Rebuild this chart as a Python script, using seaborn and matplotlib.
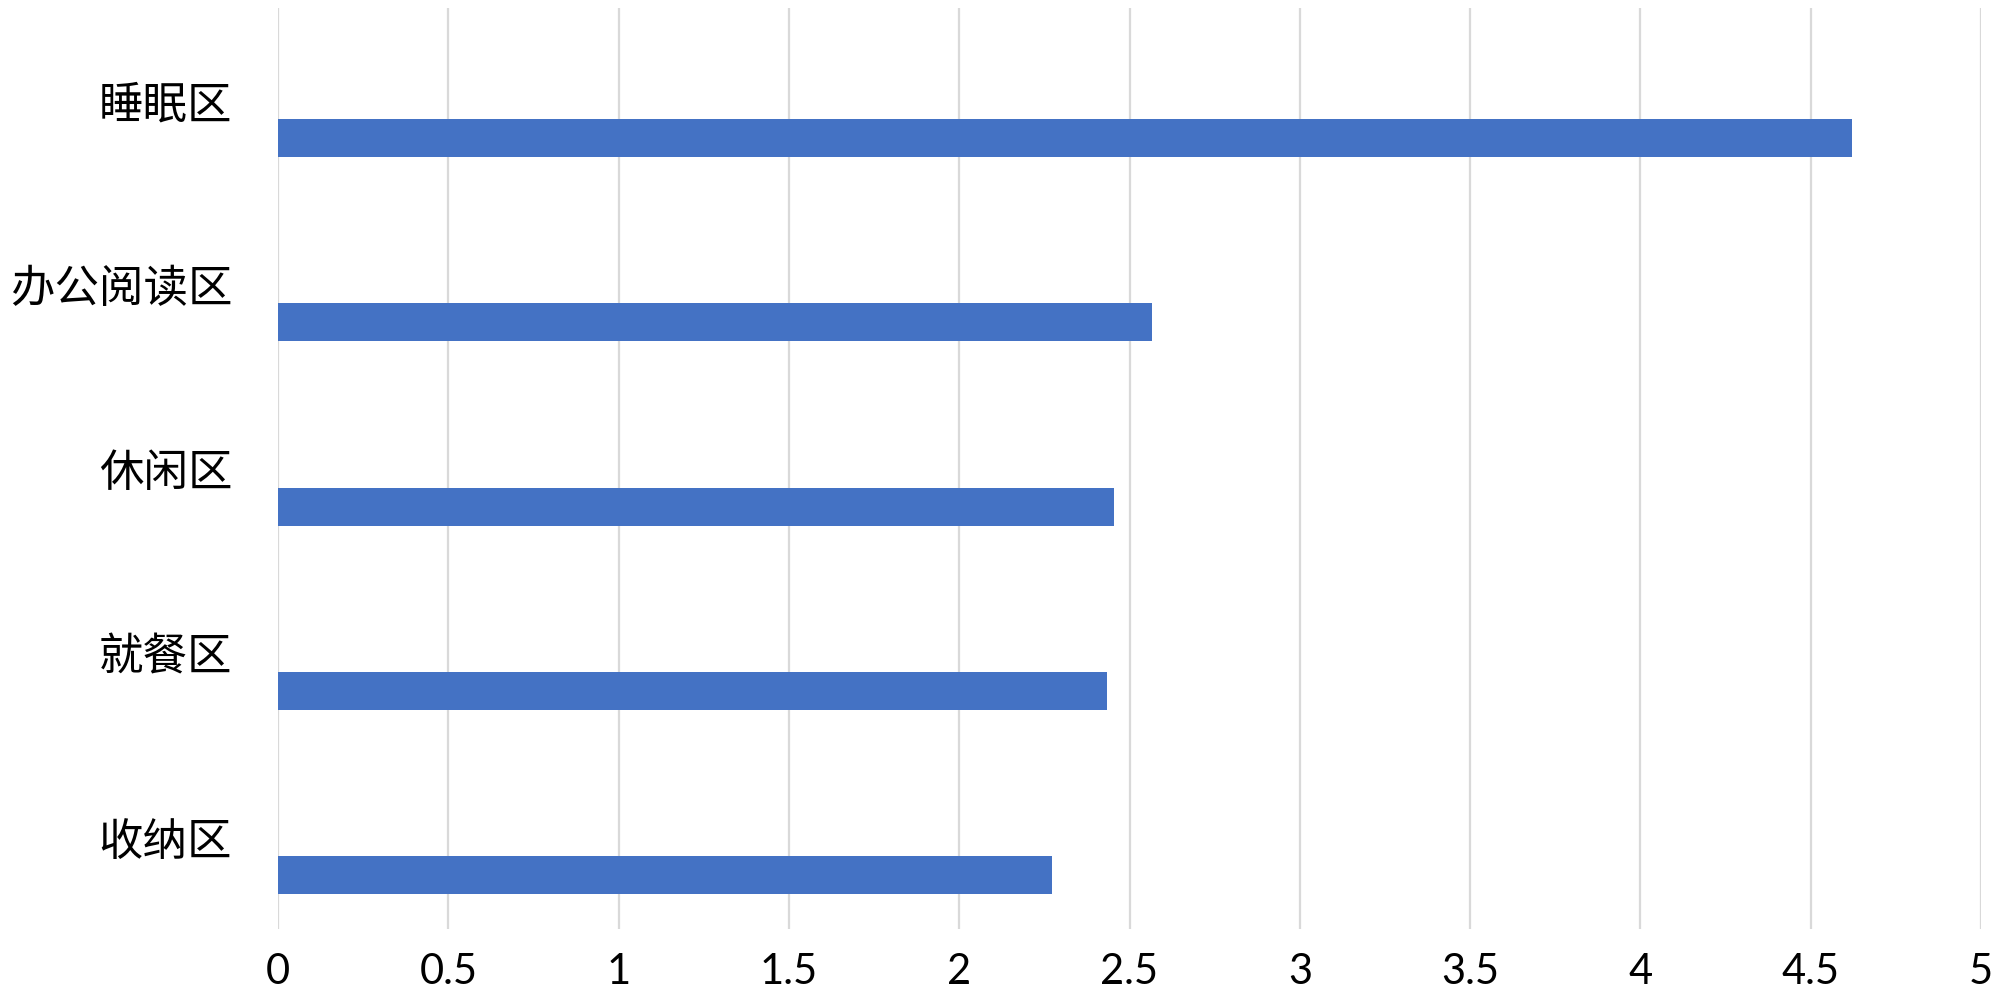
import matplotlib
matplotlib.use("Agg")
import matplotlib.pyplot as plt
import seaborn as sns
import pandas as pd
import numpy as np

categories = ["睡眠区", "办公阅读区", "休闲区", "就餐区", "收纳区"]
values = [4.62, 2.565, 2.455, 2.434, 2.272]
x_ticks = [0, 0.5, 1, 1.5, 2, 2.5, 3, 3.5, 4, 4.5, 5]
x_tick_labels = ["0", "0.5", "1", "1.5", "2", "2.5", "3", "3.5", "4", "4.5", "5"]

# Excel-style clustered layout: two empty series precede the real one
series_names = ["s1", "s2", "s3"]
rows = []
for c, v in zip(categories, values):
    rows.append({"cat": c, "series": "s1", "value": 0.0})
    rows.append({"cat": c, "series": "s2", "value": 0.0})
    rows.append({"cat": c, "series": "s3", "value": v})
df = pd.DataFrame(rows)

sns.set_theme(style="white")
plt.rcParams['font.family'] = ['Noto Sans CJK SC', 'DejaVu Sans']

fig = plt.figure(figsize=(20, 9.92), dpi=100)
ax = fig.add_axes([0.139, 0.0635, 0.8515, 0.9285])

sns.barplot(data=df, x="value", y="cat", hue="series", order=categories,
            hue_order=series_names, palette=["#ffffff", "#ffffff", "#4472C4"],
            width=0.62, dodge=True, legend=False, linewidth=0, saturation=1,
            ax=ax, zorder=3)

ax.set_xlim(0, 5)
ax.set_ylim(4.5, -0.5)
ax.set_xticks(x_ticks)
ax.set_xticklabels(x_tick_labels, fontfamily="Lato", fontsize=30)
ax.set_yticks(range(len(categories)))
ax.set_yticklabels(categories, fontsize=32)
ax.set_xlabel("")
ax.set_ylabel("")
ax.grid(axis="x", color="#d9d9d9", linewidth=1.6, zorder=0)
ax.grid(axis="y", visible=False)
ax.set_axisbelow(True)
for s in ax.spines.values():
    s.set_visible(False)
ax.tick_params(axis="x", length=0, pad=17, colors="black")
ax.tick_params(axis="y", length=0, pad=33, colors="black")

fig.savefig("out.png", dpi=100, facecolor="white")
